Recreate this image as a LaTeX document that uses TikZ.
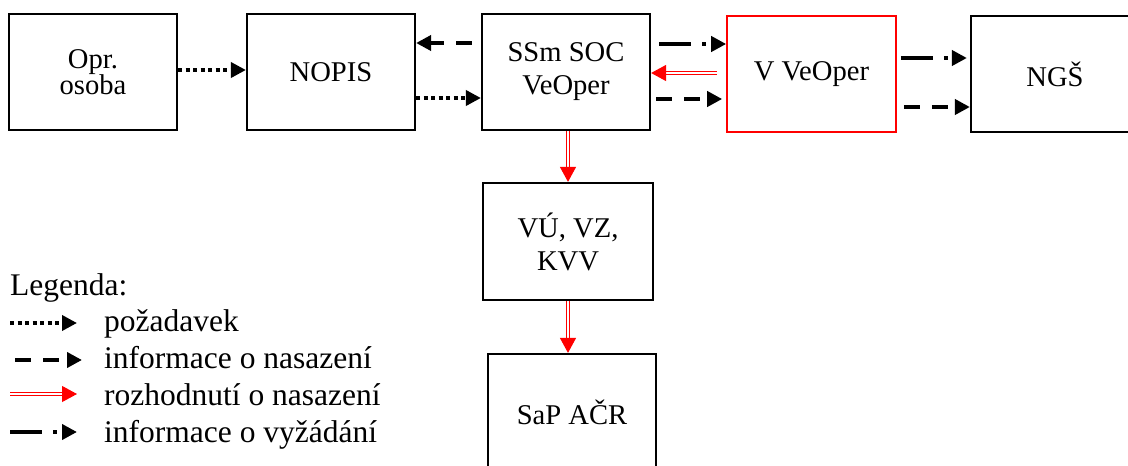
\documentclass[tikz,border=0pt]{standalone}
\usepackage{fontspec}
\setmainfont{Liberation Serif}
\usetikzlibrary{arrows.meta}
\tikzset{
  box/.style={draw=black, line width=2.2pt, minimum width=168pt, minimum height=116pt, inner sep=0pt, align=center, font=\fontsize{28.6pt}{33pt}\selectfont},
  redbox/.style={box, draw=red, line width=1.6pt},
  tip/.style={-{Triangle[length=15pt,width=15pt]}},
  dotarr/.style={tip, line width=3.6pt, dash pattern=on 4pt off 3.5pt},
  dasharr/.style={tip, line width=4pt, dash pattern=on 16pt off 12pt},
  dasharrdot/.style={tip, line width=4pt, dash pattern=on 32pt off 11pt on 4pt off 40pt},
  redarr/.style={draw=red, line width=1.1pt, double=white, double distance=1.8pt, -{Triangle[length=15pt,width=16pt,fill=red]}},
  legtext/.style={anchor=base west, inner sep=0pt, font=\fontsize{31.5pt}{36pt}\selectfont}
}
\begin{document}
\begin{tikzpicture}[x=1pt,y=-1pt]
\useasboundingbox (0,0) rectangle (1128,466);
\clip (0,0) rectangle (1128,466);
\node[box, font=\fontsize{28.6pt}{26pt}\selectfont] (opr) at (93,72) {Opr.\\osoba};
\node[box] (nopis) at (331,72) {NOPIS};
\node[box] (ssm) at (566,72) {SSm SOC\\VeOper};
\node[redbox, minimum width=169pt] (vve) at (811.5,74) {V VeOper};
\node[box] (ngs) at (1055,74) {NGŠ};
\node[box, minimum width=170pt, minimum height=117pt] (vu) at (568,241.5) {VÚ, VZ,\\KVV};
\node[box] (sap) at (572,412) {SaP AČR};

\draw[dotarr] (opr.east |- 0,70) -- (nopis.west |- 0,70);
\draw[dasharr, shorten <=9pt] (ssm.west |- 0,43) -- (nopis.east |- 0,43);
\draw[dotarr] (nopis.east |- 0,98) -- (ssm.west |- 0,98);
\draw[dasharrdot, shorten <=8pt] (ssm.east |- 0,44) -- (vve.west |- 0,44);
\draw[redarr, shorten <=9pt] (vve.west |- 0,73) -- (ssm.east |- 0,73);
\draw[dasharr, shorten <=5pt, shorten >=4pt] (ssm.east |- 0,99) -- (vve.west |- 0,99);
\draw[dasharrdot, shorten <=4pt, shorten >=3pt] (vve.east |- 0,58) -- (ngs.west |- 0,58);
\draw[dasharr, shorten <=7pt] (vve.east |- 0,107) -- (ngs.west |- 0,107);
\draw[redarr] (ssm.south -| 568,0) -- (vu.north -| 568,0);
\draw[redarr] (vu.south -| 568,0) -- (sap.north -| 568,0);

\node[legtext] (leg) at (10,295) {Legenda:};
\coordinate (l1a) at (10,323); \coordinate (l1b) at (77,323);
\coordinate (l2a) at (15,360); \coordinate (l2b) at (82,360);
\coordinate (l3a) at (10,394); \coordinate (l3b) at (77,394);
\coordinate (l4a) at (10,432); \coordinate (l4b) at (77,432);
\draw[dotarr] (l1a) -- (l1b);
\draw[dasharr] (l2a) -- (l2b);
\draw[redarr] (l3a) -- (l3b);
\draw[dasharrdot] (l4a) -- (l4b);
\node[legtext] (t1) at (104,331.7) {požadavek};
\node[legtext] (t2) at (104,368) {informace o nasazení};
\node[legtext] (t3) at (104,405) {rozhodnutí o nasazení};
\node[legtext] (t4) at (104,442) {informace o vyžádání};
\end{tikzpicture}
\end{document}
